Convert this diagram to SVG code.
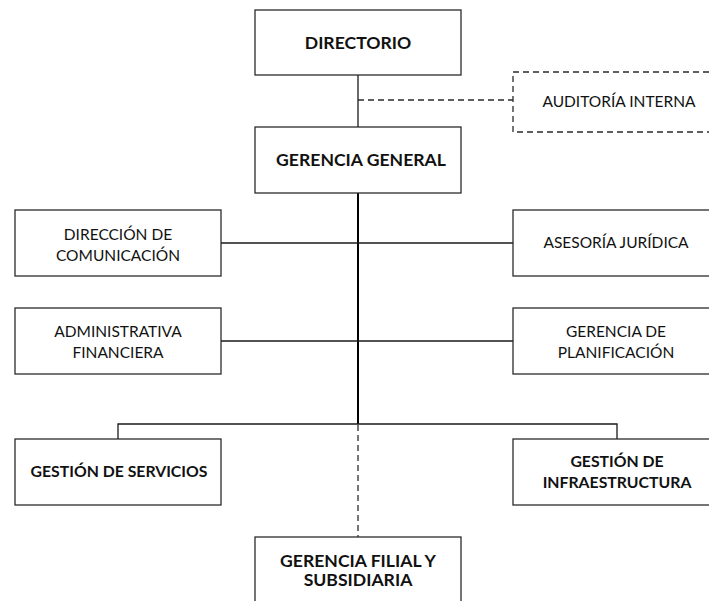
<svg xmlns="http://www.w3.org/2000/svg" width="709" height="601" viewBox="0 0 709 601">
  <style>
    .box { fill: #ffffff; stroke: #2b2b2b; stroke-width: 1.3; }
    .dbox { fill: #ffffff; stroke: #2b2b2b; stroke-width: 1.3; stroke-dasharray: 6 4; }
    .t { font-family: Lato, "Liberation Sans", sans-serif; font-size: 15.5px; fill: #111111; text-anchor: middle; }
    .b { font-family: Lato, "Liberation Sans", sans-serif; font-size: 17.6px; font-weight: bold; fill: #111111; text-anchor: middle; }
    .bs { font-size: 15.8px; }
    .ln { fill: none; stroke: #1a1a1a; stroke-width: 1.3; }
    .main { fill: none; stroke: #000000; stroke-width: 2; }
    .dash { fill: none; stroke: #2b2b2b; stroke-width: 1.3; stroke-dasharray: 6 4; }
  </style>
  <rect width="709" height="601" fill="#ffffff"/>

  <g id="connectors">
    <line class="ln" x1="358" y1="75" x2="358" y2="127"/>
    <line class="dash" x1="358" y1="100" x2="513" y2="100"/>
    <line class="main" x1="358" y1="193" x2="358" y2="424"/>
    <line class="ln" x1="221" y1="243" x2="513" y2="243"/>
    <line class="ln" x1="221" y1="341" x2="513" y2="341"/>
    <polyline class="ln" points="118,439 118,424 617,424 617,439"/>
    <line class="dash" x1="358" y1="425" x2="358" y2="537"/>
  </g>

  <g id="directorio">
    <rect class="box" x="255" y="10" width="206" height="65"/>
    <text class="b" x="358" y="49">DIRECTORIO</text>
  </g>

  <g id="auditoria-interna">
    <rect class="dbox" x="513" y="72" width="210" height="60"/>
    <text class="t" x="619" y="107">AUDITORÍA INTERNA</text>
  </g>

  <g id="gerencia-general">
    <rect class="box" x="255" y="127" width="206" height="66"/>
    <text class="b" x="361" y="166">GERENCIA GENERAL</text>
  </g>

  <g id="direccion-comunicacion">
    <rect class="box" x="15" y="210" width="206" height="66"/>
    <text class="t" x="118" y="240">DIRECCIÓN DE</text>
    <text class="t" x="118" y="261">COMUNICACIÓN</text>
  </g>

  <g id="asesoria-juridica">
    <rect class="box" x="513" y="210" width="210" height="66"/>
    <text class="t" x="616" y="248">ASESORÍA JURÍDICA</text>
  </g>

  <g id="administrativa-financiera">
    <rect class="box" x="15" y="308" width="206" height="66"/>
    <text class="t" x="118" y="337">ADMINISTRATIVA</text>
    <text class="t" x="118" y="358">FINANCIERA</text>
  </g>

  <g id="gerencia-planificacion">
    <rect class="box" x="513" y="308" width="210" height="66"/>
    <text class="t" x="616" y="337">GERENCIA DE</text>
    <text class="t" x="616" y="358">PLANIFICACIÓN</text>
  </g>

  <g id="gestion-servicios">
    <rect class="box" x="15" y="439" width="206" height="66"/>
    <text class="b bs" x="119" y="477">GESTIÓN DE SERVICIOS</text>
  </g>

  <g id="gestion-infraestructura">
    <rect class="box" x="513" y="439" width="210" height="66"/>
    <text class="b bs" x="617" y="467">GESTIÓN DE</text>
    <text class="b bs" x="617" y="488">INFRAESTRUCTURA</text>
  </g>

  <g id="gerencia-filial">
    <rect class="box" x="255" y="537" width="206" height="70"/>
    <text class="b" x="358" y="567">GERENCIA FILIAL Y</text>
    <text class="b" x="358" y="586">SUBSIDIARIA</text>
  </g>
</svg>
